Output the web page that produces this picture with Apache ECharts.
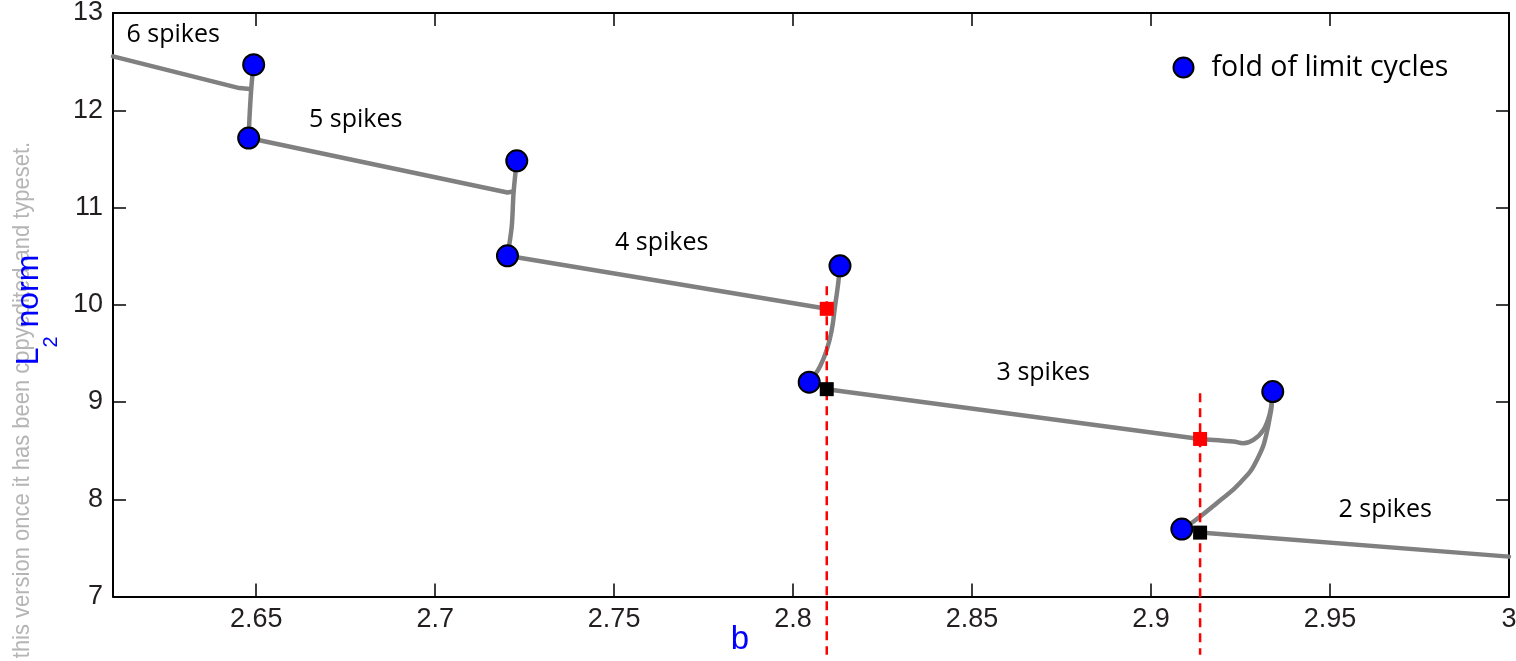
<!DOCTYPE html>
<html>
<head>
<meta charset="utf-8">
<script src="https://cdn.jsdelivr.net/npm/echarts@6/dist/echarts.min.js"></script>
<style>
html,body{margin:0;padding:0;background:#fff;}
#chart{width:1516px;height:661px;}
</style>
</head>
<body>
<div id="chart"></div>
<script>
// ---- tick values ----
const bTicks = [2.65, 2.7, 2.75, 2.8, 2.85, 2.9, 2.95, 3];
const lTicks = [7, 8, 9, 10, 11, 12, 13];

// ---- branches of limit cycles (b, L2 norm) ----
const branch6 = [[2.61, 12.554], [2.6453, 12.228], [2.6483, 12.218]];
const fold6   = [[2.6493, 12.468], [2.6488, 12.30], [2.6484, 12.10], [2.6481, 11.90], [2.6479, 11.714]];
const branch5 = [[2.6479, 11.714], [2.7202, 11.154], [2.7218, 11.165]];
const fold5   = [[2.7228, 11.48], [2.7219, 11.148], [2.7214, 10.805], [2.7202, 10.503]];
const branch4 = [[2.7202, 10.503], [2.8094, 9.958], [2.8114, 9.950]];
const fold4   = [[2.8131, 10.40], [2.8126, 10.222], [2.8117, 9.981], [2.8108, 9.742], [2.8094, 9.536], [2.8075, 9.364], [2.8057, 9.261], [2.8045, 9.204]];
const branch3 = [[2.8094, 9.132], [2.9137, 8.620]];
const hook3   = [[2.9137, 8.620], [2.9230, 8.593], [2.9258, 8.576], [2.9286, 8.610], [2.9314, 8.713], [2.9332, 8.885], [2.9340, 9.090]];
const fold3   = [[2.9340, 9.107], [2.9327, 8.747], [2.9296, 8.407], [2.9249, 8.170], [2.9185, 7.964], [2.9118, 7.768], [2.9086, 7.694]];
const branch2 = [[2.9137, 7.657], [3.0, 7.41]];

// ---- special points ----
const foldPoints   = [[2.6493, 12.468], [2.6479, 11.714], [2.7228, 11.48], [2.7202, 10.503],
                      [2.8131, 10.40], [2.8045, 9.204], [2.9340, 9.107], [2.9086, 7.694]];
const redSquares   = [[2.8094, 9.958], [2.9137, 8.620]];
const blackSquares = [[2.8094, 9.132], [2.9137, 7.657]];
const dash1 = [[2.8094, 10.19], [2.8094, 6.40]];
const dash2 = [[2.9137, 9.09], [2.9137, 6.40]];

// ---- branch labels ----
const labelText = ['6 spikes', '5 spikes', '4 spikes', '3 spikes', '2 spikes'];
const labelB = [2.6268, 2.6778, 2.7633, 2.8699, 2.9654];
const labelL = [12.777, 11.902, 10.640, 9.296, 7.890];

const chart = echarts.init(document.getElementById('chart'), null, {renderer: 'canvas'});

const tickFont = {fontFamily: 'Liberation Sans', fontSize: 27, color: '#231f20'};
const axisLine = {show: true, onZero: false, lineStyle: {color: '#000', width: 2}};

function grayLine(data, smooth) {
  return {
    type: 'line', data: data, showSymbol: false, symbol: 'none', smooth: smooth || false,
    lineStyle: {color: '#808080', width: 4.5, cap: 'round', join: 'round'},
    z: 2, silent: true, animation: false
  };
}
function dashLine(data) {
  return {
    type: 'line', data: data, showSymbol: false, symbol: 'none', clip: false,
    lineStyle: {color: '#ff0000', width: 2.5, type: [9, 6]},
    z: 3, silent: true, animation: false
  };
}

const option = {
  animation: false,
  textStyle: {fontFamily: 'Liberation Sans'},
  grid: {left: 113, right: 7, top: 13, bottom: 64.5, containLabel: false, outerBoundsMode: 'none'},
  xAxis: [
    {type: 'value', min: 2.61, max: 3.0, position: 'bottom',
     axisLine: axisLine,
     axisTick: {show: true, inside: true, length: 13, customValues: bTicks, lineStyle: {color: '#000', width: 1.5}},
     axisLabel: {show: true, margin: 10, customValues: bTicks, ...tickFont},
     splitLine: {show: false}},
    {type: 'value', min: 2.61, max: 3.0, position: 'top',
     axisLine: axisLine,
     axisTick: {show: true, inside: true, length: 13, customValues: bTicks, lineStyle: {color: '#000', width: 1.5}},
     axisLabel: {show: false},
     splitLine: {show: false}}
  ],
  yAxis: [
    {type: 'value', min: 7, max: 13, interval: 1, position: 'left',
     axisLine: axisLine,
     axisTick: {show: true, inside: true, length: 13, lineStyle: {color: '#000', width: 1.5}},
     axisLabel: {show: true, margin: 10, ...tickFont},
     splitLine: {show: false}},
    {type: 'value', min: 7, max: 13, interval: 1, position: 'right',
     axisLine: axisLine,
     axisTick: {show: true, inside: true, length: 13, lineStyle: {color: '#000', width: 1.5}},
     axisLabel: {show: false},
     splitLine: {show: false}}
  ],
  legend: {
    data: ['fold of limit cycles'],
    left: 1172.5, top: 53, padding: 0,
    itemWidth: 46, itemHeight: 20,
    icon: 'circle',
    itemStyle: {color: '#0000ff', borderColor: '#000', borderWidth: 2, opacity: 1},
    textStyle: {fontFamily: 'Open Sans', fontSize: 28.5, color: '#000'}
  },
  series: [
    grayLine(branch6), grayLine(fold6, 0.3), grayLine(branch5), grayLine(fold5, 0.3),
    grayLine(branch4), grayLine(fold4, 0.5), grayLine(branch3), grayLine(hook3, 0.4),
    grayLine(fold3, 0.5), grayLine(branch2),
    dashLine(dash1), dashLine(dash2),
    {type: 'scatter', data: redSquares, symbol: 'rect', symbolSize: 14,
     itemStyle: {color: '#ff0000', opacity: 1}, z: 4, silent: true},
    {type: 'scatter', data: blackSquares, symbol: 'rect', symbolSize: 14,
     itemStyle: {color: '#000000', opacity: 1}, z: 4, silent: true},
    {name: 'fold of limit cycles', type: 'scatter', data: foldPoints, symbol: 'circle', symbolSize: 21,
     itemStyle: {color: '#0000ff', borderColor: '#000', borderWidth: 2, opacity: 1}, z: 5, silent: true},
    {type: 'scatter', symbolSize: 0, silent: true, z: 6,
     itemStyle: {opacity: 1},
     data: labelText.map((t, i) => ({name: t, value: [labelB[i], labelL[i]]})),
     label: {show: true, position: 'inside', formatter: '{b}',
             fontFamily: 'Open Sans', fontSize: 25, color: '#000000', opacity: 1}}
  ],
  graphic: [
    {type: 'text', x: 22, y: 400, rotation: Math.PI / 2, scaleX: 0.915, silent: true,
     style: {text: 'this version once it has been copyedited and typeset.',
             font: '24px "Liberation Sans"', fill: '#b5b5b5', align: 'center', verticalAlign: 'middle'}},
    {type: 'text', x: 29, y: 310, rotation: Math.PI / 2, silent: true,
     style: {text: '{m|L}{s|2}{m| norm}', align: 'center', verticalAlign: 'middle',
             rich: {
               m: {fontFamily: 'Liberation Sans', fontSize: 32, lineHeight: 32, fill: '#0000ff', verticalAlign: 'top'},
               s: {fontFamily: 'Liberation Sans', fontSize: 20, lineHeight: 20, fill: '#0000ff', verticalAlign: 'top', padding: [28, 0, 0, 0]}
             }}},
    {type: 'text', x: 740, y: 640, silent: true,
     style: {text: 'b', font: '33px "Liberation Sans"', fill: '#0000ff', align: 'center', verticalAlign: 'middle'}}
  ]
};
chart.setOption(option);
</script>
</body>
</html>
